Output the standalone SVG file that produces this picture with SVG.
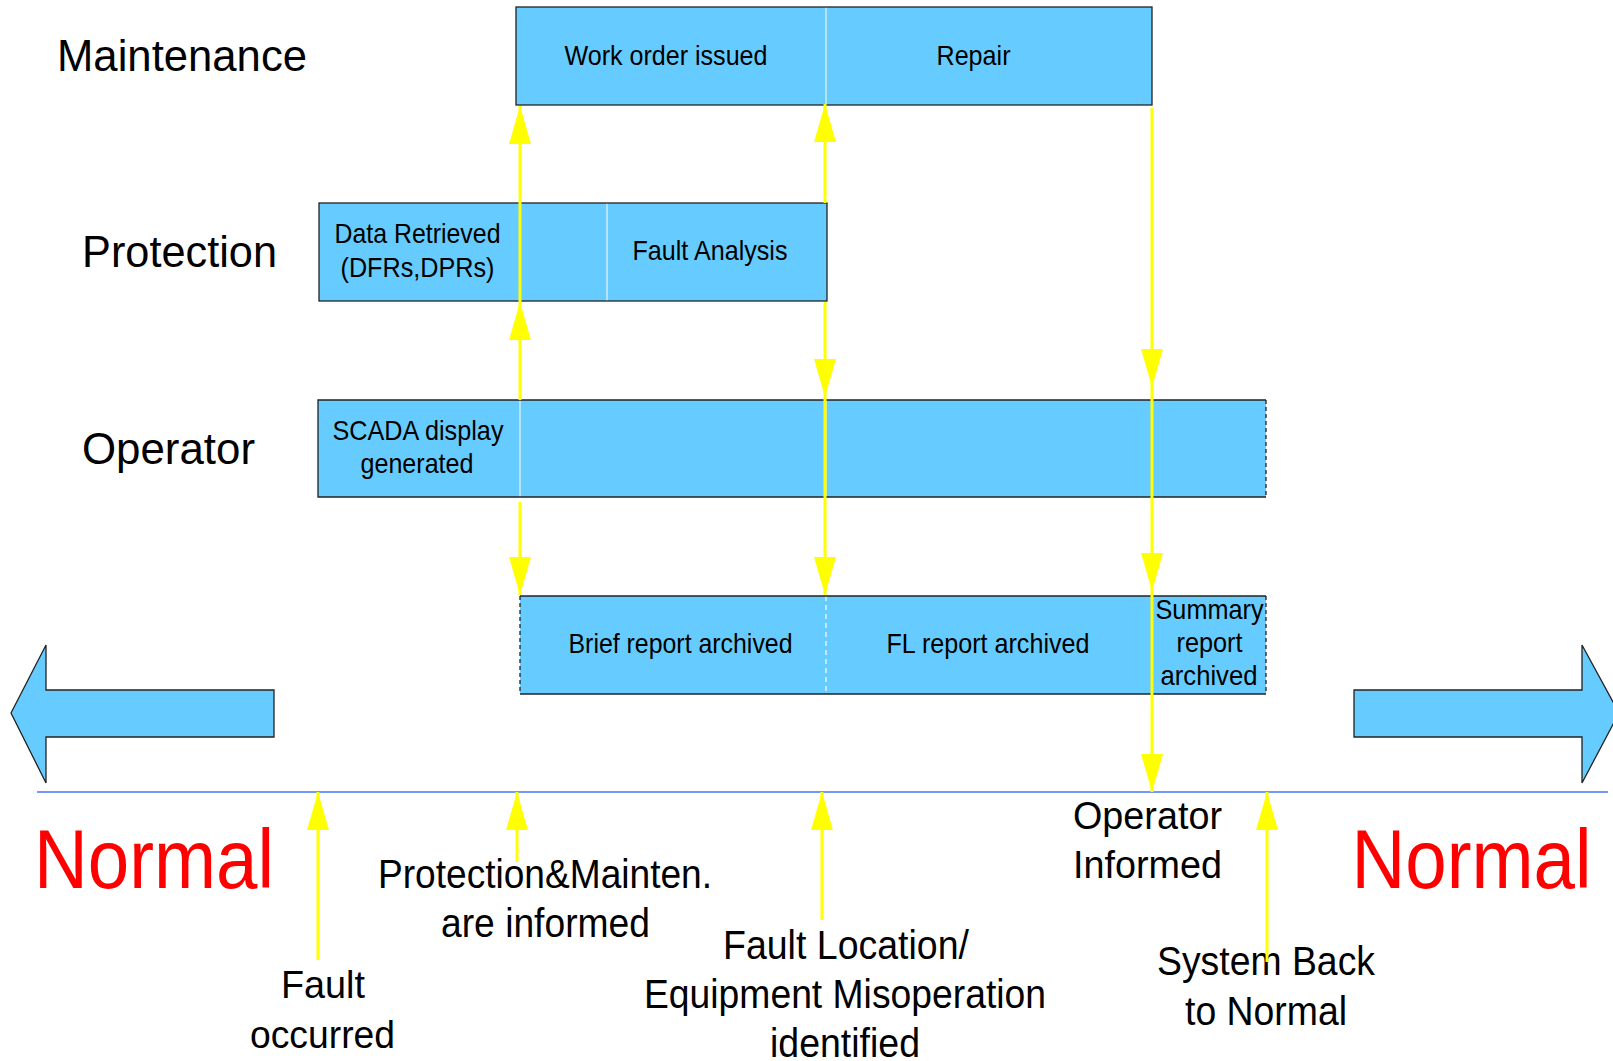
<svg xmlns="http://www.w3.org/2000/svg" width="1613" height="1061" viewBox="0 0 1613 1061">
<style>
  .box{fill:#66ccff;stroke:none}
  .edge{stroke:#222;stroke-width:1.3;fill:none}
  .dash{stroke:#222;stroke-width:1.3;stroke-dasharray:4 3;fill:none}
  .div{stroke:#e4eef5;stroke-width:1.3}
  .divd{stroke:#f4f8fb;stroke-width:1.3;stroke-dasharray:5 4}
  .t{font-family:"Liberation Sans",Arial,sans-serif;fill:#000;text-anchor:middle}
  .bt{font-size:28px}
  .lab{font-size:45px}
  .bl{font-size:40px}
  .red{font-family:"Liberation Sans",Arial,sans-serif;fill:#ff0000;font-size:84px;text-anchor:middle}
  .con{stroke:#ffff00;stroke-width:3;fill:none;marker-end:url(#ah)}
  .big{fill:#66ccff;stroke:#222;stroke-width:1.3}
</style>
<defs>
  <marker id="ah" markerUnits="userSpaceOnUse" markerWidth="40" markerHeight="24" refX="38" refY="11" orient="auto">
    <path d="M0,0 L38,11 L0,22 z" fill="#ffff00"/>
  </marker>
</defs>
<rect width="1613" height="1061" fill="#ffffff"/>

<!-- lane labels -->
<g id="lane-maintenance"><text class="t lab" x="182" y="71" textLength="250" lengthAdjust="spacingAndGlyphs">Maintenance</text></g>
<g id="lane-protection"><text class="t lab" x="179.5" y="267" textLength="195" lengthAdjust="spacingAndGlyphs">Protection</text></g>
<g id="lane-operator"><text class="t lab" x="168.5" y="464" textLength="173" lengthAdjust="spacingAndGlyphs">Operator</text></g>

<!-- Maintenance -->
<g id="maintenance">
  <rect class="box" x="516" y="7" width="636" height="98"/>
  <line class="div" x1="826" y1="7" x2="826" y2="105"/>
  <rect class="edge" x="516" y="7" width="636" height="98"/>
  <text class="t bt" x="666" y="65" textLength="203" lengthAdjust="spacingAndGlyphs">Work order issued</text>
  <text class="t bt" x="973.5" y="65" textLength="74" lengthAdjust="spacingAndGlyphs">Repair</text>
</g>

<!-- Protection -->
<g id="protection">
  <rect class="box" x="319" y="203" width="508" height="98"/>
  <line class="div" x1="607" y1="203" x2="607" y2="301"/>
  <rect class="edge" x="319" y="203" width="508" height="98"/>
  <text class="t bt" x="417.5" y="243" textLength="166" lengthAdjust="spacingAndGlyphs">Data Retrieved</text>
  <text class="t bt" x="417.5" y="277" textLength="154" lengthAdjust="spacingAndGlyphs">(DFRs,DPRs)</text>
  <text class="t bt" x="710" y="260" textLength="155" lengthAdjust="spacingAndGlyphs">Fault Analysis</text>
</g>

<!-- Operator -->
<g id="operator">
  <rect class="box" x="318" y="400" width="948" height="97"/>
  <line class="div" x1="520" y1="400" x2="520" y2="497"/>
  <line class="div" x1="826" y1="400" x2="826" y2="497"/>
  <path class="edge" d="M1266,400 L318,400 L318,497 L1266,497"/>
  <line class="dash" x1="1266" y1="400" x2="1266" y2="497"/>
  <text class="t bt" x="418" y="440" textLength="171" lengthAdjust="spacingAndGlyphs">SCADA display</text>
  <text class="t bt" x="417" y="473" textLength="113" lengthAdjust="spacingAndGlyphs">generated</text>
</g>

<!-- Reports -->
<g id="reports">
  <rect class="box" x="520" y="596" width="746" height="98"/>
  <line class="divd" x1="826" y1="596" x2="826" y2="694"/>
  <line class="edge" x1="520" y1="596" x2="1266" y2="596"/>
  <line class="edge" x1="520" y1="694" x2="1266" y2="694"/>
  <line class="dash" x1="520" y1="596" x2="520" y2="694"/>
  <line class="dash" x1="1266" y1="596" x2="1266" y2="694"/>
  <text class="t bt" x="680.5" y="653" textLength="224" lengthAdjust="spacingAndGlyphs">Brief report archived</text>
  <text class="t bt" x="988" y="653" textLength="203" lengthAdjust="spacingAndGlyphs">FL report archived</text>
  <text class="t bt" x="1209.5" y="619" textLength="108" lengthAdjust="spacingAndGlyphs">Summary</text>
  <text class="t bt" x="1209.5" y="652" textLength="66" lengthAdjust="spacingAndGlyphs">report</text>
  <text class="t bt" x="1209" y="685" textLength="97" lengthAdjust="spacingAndGlyphs">archived</text>
</g>

<!-- big arrows -->
<g id="arrow-left"><polygon class="big" points="11,713 46,645 46,690 274,690 274,737 46,737 46,783"/></g>
<g id="arrow-right"><polygon class="big" points="1619,713 1582,645 1582,690 1354,690 1354,737 1582,737 1582,783"/></g>

<!-- timeline -->
<g id="timeline"><line x1="37" y1="792" x2="1608" y2="792" stroke="#4477ff" stroke-width="1.5"/></g>

<!-- Normal labels -->
<g id="normal-left"><text class="red" x="154" y="888" textLength="240" lengthAdjust="spacingAndGlyphs">Normal</text></g>
<g id="normal-right"><text class="red" x="1471.5" y="888" textLength="240" lengthAdjust="spacingAndGlyphs">Normal</text></g>

<!-- event labels -->
<g id="ev-fault">
  <text class="t" style="font-size:39px" x="323" y="998" textLength="84" lengthAdjust="spacingAndGlyphs">Fault</text>
  <text class="t" style="font-size:39px" x="322.5" y="1048" textLength="145" lengthAdjust="spacingAndGlyphs">occurred</text>
</g>
<g id="ev-informed">
  <text class="t bl" x="545" y="888" textLength="334" lengthAdjust="spacingAndGlyphs">Protection&amp;Mainten.</text>
  <text class="t bl" x="545.5" y="937" textLength="209" lengthAdjust="spacingAndGlyphs">are informed</text>
</g>
<g id="ev-location">
  <text class="t bl" x="846" y="959" textLength="246" lengthAdjust="spacingAndGlyphs">Fault Location/</text>
  <text class="t bl" x="845" y="1008" textLength="402" lengthAdjust="spacingAndGlyphs">Equipment Misoperation</text>
  <text class="t bl" x="845" y="1057" textLength="150" lengthAdjust="spacingAndGlyphs">identified</text>
</g>
<g id="ev-operator">
  <text class="t" style="font-size:38px" x="1147.5" y="829" textLength="149" lengthAdjust="spacingAndGlyphs">Operator</text>
  <text class="t" style="font-size:38px" x="1147.5" y="878" textLength="149" lengthAdjust="spacingAndGlyphs">Informed</text>
</g>
<g id="ev-back">
  <text class="t bl" x="1266" y="975" textLength="218" lengthAdjust="spacingAndGlyphs">System Back</text>
  <text class="t bl" x="1266" y="1025" textLength="162" lengthAdjust="spacingAndGlyphs">to Normal</text>
</g>

<!-- connectors -->
<g id="connectors">
  <path class="con" d="M520,400 L520,302"/>
  <path class="con" d="M520,302 L520,106"/>
  <path class="con" d="M520,502 L520,595"/>
  <path class="con" d="M825,203 L825,104"/>
  <path class="con" d="M825,302 L825,397"/>
  <path class="con" d="M825,397 L825,595"/>
  <path class="con" d="M1152,108 L1152,387"/>
  <path class="con" d="M1152,387 L1152,591"/>
  <path class="con" d="M1152,591 L1152,792"/>
  <path class="con" d="M318,960 L318,792"/>
  <path class="con" d="M517,862 L517,792"/>
  <path class="con" d="M822,920 L822,792"/>
  <path class="con" d="M1267,962 L1267,792"/>
</g>
</svg>
